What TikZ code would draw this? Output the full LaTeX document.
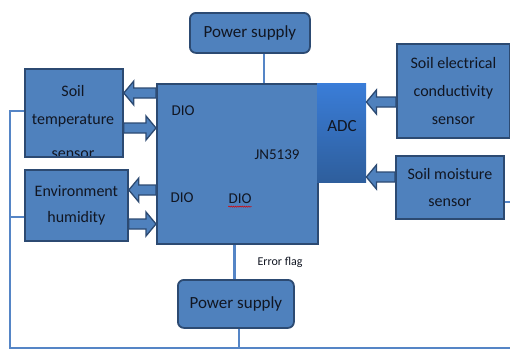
\documentclass[tikz,border=0pt]{standalone}
\usepackage{fontspec}
\setmainfont{Carlito}
\usetikzlibrary{calc,decorations.pathmorphing}
\definecolor{boxfill}{HTML}{4F81BD}
\definecolor{boxline}{HTML}{2C4A72}
\definecolor{wire}{HTML}{5585C6}
\definecolor{adctop}{HTML}{3A7DD8}
\definecolor{adcbot}{HTML}{2E5E9C}
\definecolor{ink}{HTML}{111622}
\tikzset{
  box/.style={draw=boxline, fill=boxfill, line width=1.8pt, anchor=north west, inner sep=0pt, text=ink},
  rbox/.style={box, rounded corners=6pt},
  adcbox/.style={shade, top color=adctop, bottom color=adcbot, anchor=north west, inner sep=0pt},
  wire/.style={draw=wire, line width=2.4pt},
  arrowbox/.style={draw=boxline, fill=boxfill, line width=1.3pt, line join=miter},
  lbl/.style={text=ink, inner sep=0pt, align=center},
}
\newcommand\blockarr[2]{%
  \filldraw[arrowbox] let \p1=(#1), \p2=(#2), \n1={(\x2>\x1) ? 1 : -1} in
   (\x1,\y1+5pt) -- (\x2-\n1*10pt,\y1+5pt) -- (\x2-\n1*10pt,\y1+12pt) -- (\x2,\y1)
   -- (\x2-\n1*10pt,\y1-12pt) -- (\x2-\n1*10pt,\y1-5pt) -- (\x1,\y1-5pt) -- cycle;}
\begin{document}
\begin{tikzpicture}[x=1pt,y=-1pt]
\useasboundingbox (0,0) rectangle (510,349);
\coordinate (bl) at (10,348);
\coordinate (br) at (512,348);
\coordinate (lt) at (10,111);
\coordinate (lm) at (10,217);
\coordinate (rt) at (512,105);
\coordinate (rm) at (512,202);

% boxes
\node[rbox, minimum width=120pt, minimum height=40pt, font=\fontsize{17}{20}\selectfont] (ps1) at (189,12) {Power supply};
\node[box, minimum width=161pt, minimum height=160pt] (jn) at (156,83) {};
\node[adcbox, minimum width=49pt, minimum height=99pt] (adc) at (317,83) {};
\node[lbl, font=\fontsize{17}{20}\selectfont] (adcl) at (342,126) {ADC};
\node[box, minimum width=98pt, minimum height=88pt] (st) at (24,68) {};
\node[box, minimum width=103pt, minimum height=71pt, font=\fontsize{16}{26}\selectfont, align=center] (eh) at (24,169) {Environment\\humidity};
\node[box, minimum width=113pt, minimum height=94pt, font=\fontsize{16}{28}\selectfont, align=center] (ec) at (396,43) {Soil electrical\\conductivity\\sensor};
\node[box, minimum width=108pt, minimum height=63pt, font=\fontsize{16}{27}\selectfont, align=center] (sm) at (395,155) {Soil moisture\\sensor};
\node[rbox, minimum width=116pt, minimum height=48pt, font=\fontsize{17}{20}\selectfont] (ps2) at (177,279) {Power supply};

% clipped text of the soil temperature box
\begin{scope}
  \clip ([shift={(2pt,2pt)}]st.south west) rectangle ([shift={(-2pt,-2pt)}]st.north east);
  \node[lbl, font=\fontsize{16}{28}\selectfont] (sttext) at (73,121.5) {Soil\\temperature\\[6pt]sensor};
\end{scope}

% labels inside JN5139
\node[lbl, font=\fontsize{15}{18}\selectfont] (dio1) at (183,111) {DIO};
\node[lbl, font=\fontsize{15}{18}\selectfont] (jnl) at (277,155) {JN5139};
\node[lbl, font=\fontsize{15}{18}\selectfont] (dio2) at (182,198) {DIO};
\node[lbl, font=\fontsize{15}{18}\selectfont] (dio3) at (240,199) {DIO};
\draw[red!85!black, line width=0.5pt, decorate, decoration={snake, amplitude=0.6pt, segment length=2.2pt}]
  ([yshift=-2.5pt]dio3.south west) -- ([yshift=-2.5pt]dio3.south east);
\node[lbl, font=\fontsize{12}{14}\selectfont] (err) at (280,262) {Error flag};

% wires
\draw[wire] ([xshift=14pt]ps1.south) -- ([xshift=14pt]ps1.south |- jn.north);
\draw[wire] ([xshift=-3pt]jn.south) -- ([xshift=-3pt]jn.south |- ps2.north);
\draw[wire] ([xshift=3pt]ps2.south) -- ([xshift=3pt]ps2.south |- bl);
\draw[wire] (st.west |- lt) -- (lt) -- (bl) -- (br);
\draw[wire] (eh.west |- lm) -- (lm);
\draw[wire] (ec.east |- rt) -- (rt);
\draw[wire] (sm.east |- rm) -- (rm);

% block arrows
\coordinate (a1) at (0,93);
\coordinate (a2) at (0,128);
\coordinate (a3) at (0,190);
\coordinate (a4) at (0,224);
\coordinate (a5) at (0,102);
\coordinate (a6) at (0,177);
\blockarr{jn.west |- a1}{st.east |- a1}
\blockarr{st.east |- a2}{jn.west |- a2}
\blockarr{jn.west |- a3}{eh.east |- a3}
\blockarr{eh.east |- a4}{jn.west |- a4}
\blockarr{ec.west |- a5}{adc.east |- a5}
\blockarr{sm.west |- a6}{adc.east |- a6}
\end{tikzpicture}
\end{document}
